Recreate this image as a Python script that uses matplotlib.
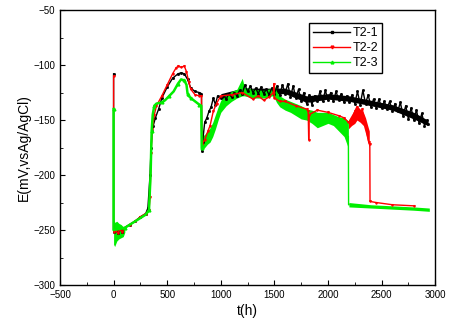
import matplotlib
matplotlib.use('Agg')
import matplotlib.pyplot as plt
from matplotlib.ticker import MultipleLocator
from matplotlib.lines import Line2D

plt.rcParams['font.family'] = ['Liberation Sans', 'DejaVu Sans']

# ---- T2-1 (black) ----
t1 = [0, 0, 5, 20, 40, 60, 80, 100, 150, 200, 250, 300, 320, 340, 350, 360, 370, 390,
      420, 450, 500, 550, 600, 630, 660, 690, 720, 760, 800, 820, 822, 830, 850, 870,
      890, 910, 930, 950, 970,
      1000, 1025, 1050, 1075, 1100, 1125, 1150, 1175, 1200, 1225, 1250, 1275, 1300,
      1325, 1350, 1375, 1400, 1425, 1450, 1475, 1500, 1525, 1550, 1575, 1600, 1625,
      1650, 1675, 1700, 1725, 1750, 1775, 1800, 1825, 1850, 1875, 1900, 1925, 1950,
      1975, 2000, 2025, 2050, 2075, 2100, 2125, 2150, 2175, 2200, 2225, 2250, 2275,
      2300, 2325, 2350, 2375, 2400, 2425, 2450, 2475, 2500, 2525, 2550, 2575, 2600,
      2625, 2650, 2675, 2700, 2725, 2750, 2775, 2800, 2825, 2850, 2875, 2900, 2925, 2935]
e1 = [-108, -250, -252, -250, -253, -249, -252, -248, -245, -242, -238, -235, -230, -200,
      -175, -160, -155, -148, -140, -130, -120, -112, -108, -107, -108, -113, -121, -124,
      -125, -126, -178, -170, -152, -148, -142, -138, -130, -136, -128,
      -130, -127, -131, -126, -129, -125, -128, -123, -126, -118, -124, -119, -125,
      -121, -126, -120, -126, -122, -127, -121, -126, -119, -127, -118, -126, -117,
      -129, -119, -130, -122, -133, -125, -135, -127, -136, -128, -133, -124, -133,
      -123, -132, -125, -133, -124, -132, -126, -134, -128, -134, -127, -135, -124,
      -136, -123, -135, -127, -138, -131, -139, -131, -139, -133, -140, -133, -142,
      -135, -142, -134, -146, -137, -149, -139, -150, -141, -153, -144, -155, -150, -154]
# core of the noisy band, lower / upper envelope
t1_band = [1000, 1200, 1400, 1600, 1800, 2000, 2200, 2400, 2600, 2800, 2930]
e1_lo = [-131, -126, -126, -126, -134, -131, -133, -137, -141, -149, -155]
e1_hi = [-126, -121, -121, -121, -128, -126, -128, -132, -136, -143, -150]

# ---- T2-2 (red) ----
t2 = [0, 0, 5, 20, 40, 60, 80, 100, 150, 200, 250, 300, 330, 340, 350, 360, 380, 400,
      450, 500, 550, 580, 600, 630, 660, 680, 700, 720, 760, 800, 820, 822, 850, 880,
      900, 930, 960, 1000, 1100, 1200, 1300, 1350, 1400, 1450, 1490, 1495, 1500, 1550,
      1600, 1700, 1800, 1815, 1820, 1825, 1900, 2000, 2100, 2150, 2190, 2220, 2250,
      2270, 2300, 2320, 2340, 2360, 2380, 2390, 2392, 2450, 2600, 2800]
e2 = [-110, -250, -252, -250, -253, -249, -252, -248, -245, -242, -238, -235, -232,
      -220, -180, -158, -145, -137, -128, -118, -108, -103, -101, -102, -101, -106,
      -115, -122, -127, -128, -128, -172, -168, -160, -155, -142, -135, -128, -127,
      -125, -131, -128, -132, -129, -125, -117, -130, -133, -133, -137, -140, -142,
      -168, -145, -141, -143, -146, -148, -152, -150, -142, -138, -145, -140, -150,
      -160, -170, -172, -224, -225, -227, -228]
t2_band = [2190, 2220, 2250, 2270, 2300, 2330, 2350, 2370, 2385]
e2_lo = [-158, -155, -153, -150, -152, -155, -162, -170, -175]
e2_hi = [-150, -145, -140, -137, -140, -143, -148, -155, -160]

# ---- T2-3 (green) ----
t3 = [0, 0, 105, 300, 330, 345, 355, 365, 380, 400, 450, 480, 520, 560, 600, 630, 660,
      680, 690, 700, 720, 760, 800, 818, 822]
e3 = [-140, -250, -248, -236, -232, -200, -160, -145, -137, -135, -134, -132, -128,
      -124, -117, -113, -114, -118, -126, -128, -130, -133, -136, -137, -175]
t3_start = [0, 10, 30, 50, 70, 90, 105]
e3_start_lo = [-263, -265, -260, -258, -257, -256, -252]
e3_start_hi = [-240, -243, -242, -244, -245, -247, -248]
t3_band = [825, 850, 875, 900, 925, 950, 975, 1000, 1050, 1100, 1150, 1200, 1220, 1300,
           1400, 1480, 1500, 1520, 1550, 1600, 1650, 1700, 1750, 1800, 1850, 1900,
           1950, 2000, 2050, 2100, 2150, 2180, 2190]
e3_lo = [-178, -175, -172, -170, -165, -158, -150, -143, -137, -133, -130, -128, -128,
         -130, -130, -128, -130, -134, -138, -141, -143, -146, -149, -150, -153, -157,
         -155, -153, -155, -160, -165, -173, -176]
e3_hi = [-165, -163, -160, -157, -152, -145, -138, -132, -127, -124, -122, -112, -120,
         -122, -123, -121, -118, -124, -128, -131, -133, -135, -137, -140, -141, -143,
         -143, -143, -145, -147, -148, -150, -152]
t3_drop = [2190, 2192, 2195]
e3_drop = [-165, -227, -227]
t3_end = [2195, 2400, 2600, 2800, 2945]
e3_end_lo = [-229, -230, -231, -232, -233]
e3_end_hi = [-225, -227, -228, -229, -230]

black = '#000000'
red = '#ff0000'
green = '#00ee00'

fig = plt.figure(figsize=(4.51, 3.25), dpi=100)
ax = fig.add_axes([0.133, 0.123, 0.832, 0.846])

# black
ax.plot(t1, e1, color=black, lw=1.0, marker='s', ms=1.0)
ax.fill_between(t1_band, e1_lo, e1_hi, color=black, lw=0)

# red
ax.plot(t2, e2, color=red, lw=1.0, marker='v', ms=1.2)
ax.fill_between(t2_band, e2_lo, e2_hi, color=red, lw=0)

# green
ax.plot(t3, e3, color=green, lw=1.8, marker='^', ms=2, markevery=2)
ax.fill_between(t3_start, e3_start_lo, e3_start_hi, color=green, lw=0)
ax.fill_between(t3_band, e3_lo, e3_hi, color=green, lw=0)
ax.plot(t3_drop, e3_drop, color=green, lw=1.0)
ax.fill_between(t3_end, e3_end_lo, e3_end_hi, color=green, lw=0)

ax.set_xlim(-500, 3000)
ax.set_ylim(-300, -50)
ax.xaxis.set_major_locator(MultipleLocator(500))
ax.xaxis.set_minor_locator(MultipleLocator(250))
ax.yaxis.set_major_locator(MultipleLocator(50))
ax.yaxis.set_minor_locator(MultipleLocator(25))
ax.tick_params(which='both', direction='in', top=False, right=False, labelsize=7)
ax.tick_params(which='major', length=3.5)
ax.tick_params(which='minor', length=2)
for s in ax.spines.values():
    s.set_linewidth(1.0)

ax.set_xlabel('t(h)', fontsize=10, labelpad=3)
ax.set_ylabel('E(mV,vsAg/AgCl)', fontsize=10, labelpad=2)

handles = [Line2D([], [], color=black, lw=1, marker='s', ms=2),
           Line2D([], [], color=red, lw=1, marker='v', ms=2),
           Line2D([], [], color=green, lw=1, marker='^', ms=2)]
leg = ax.legend(handles, ['T2-1', 'T2-2', 'T2-3'], loc='upper left',
                bbox_to_anchor=(0.664, 0.952), fontsize=9, frameon=True, fancybox=False,
                edgecolor='black', framealpha=1, handlelength=3.0, handletextpad=0.2,
                borderpad=0.3, labelspacing=0.25, borderaxespad=0)
leg.get_frame().set_linewidth(1.0)

fig.savefig('out.png', dpi=100)
